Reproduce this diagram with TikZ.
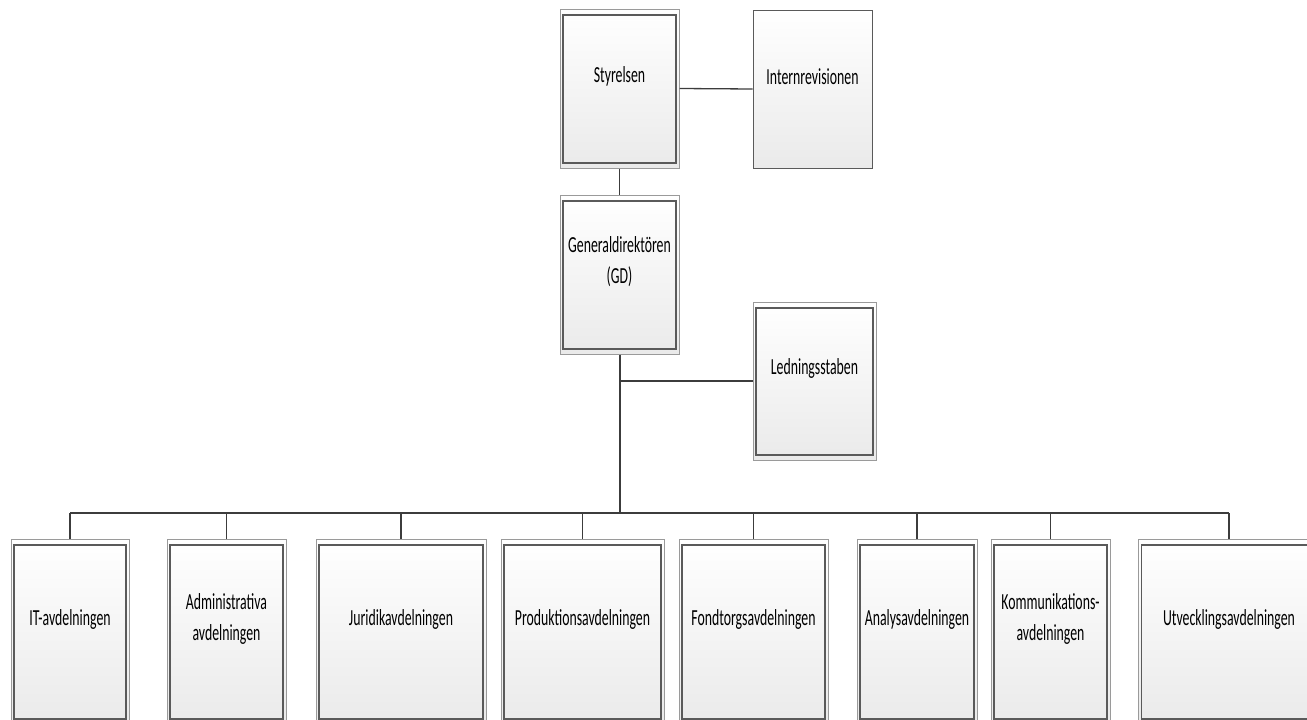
\documentclass[tikz,border=0pt]{standalone}
\usepackage{fontspec}
\setmainfont{Carlito}[FakeStretch=0.6]
\usetikzlibrary{positioning}

\definecolor{framegray}{HTML}{9A9A9A}
\definecolor{innergray}{HTML}{5A5A5A}
\definecolor{linegray}{HTML}{3C3C3C}
\definecolor{boxbottom}{HTML}{EAEAEA}

\begin{document}
\begin{tikzpicture}
		[x=1pt,y=-1pt,
		 box/.style={rectangle,draw=framegray,line width=1pt,top color=white,bottom color=boxbottom,inner sep=0pt},
		 dbox/.style={box,path picture={\draw[innergray,line width=1.1pt]
		   ([shift={(3pt,-6pt)}]path picture bounding box.north west) rectangle
		   ([shift={(-3pt,5pt)}]path picture bounding box.south east);}},
		 sbox/.style={box,draw=innergray},
		 boxtext/.style={align=center,inner sep=0pt,yshift=12.5pt,font=\fontsize{23}{31}\selectfont},
		 link/.style={draw=linegray,line width=1.3pt},
		 trunk/.style={draw=linegray,line width=2pt}]
		\useasboundingbox (0,0) rectangle (1307,720);

		% top of the chart
		\node[dbox,minimum width=119pt,minimum height=159pt] (styr) at (619.5,88.5) {};
		\node[boxtext] (styr-t) at (styr) {Styrelsen};
		\node[sbox,minimum width=119pt,minimum height=158pt] (intrev) at (812.5,89) {};
		\node[boxtext] (intrev-t) at (intrev) {Internrevisionen};
		\node[dbox,minimum width=119pt,minimum height=159pt] (gd) at (619.5,274.5) {};
		\node[boxtext] (gd-t) at (gd) {Generaldirektören\\(GD)};
		\node[dbox,minimum width=123pt,minimum height=158pt] (led) at (814.5,381) {};
		\node[boxtext] (led-t) at (led) {Ledningsstaben};

		% departments
		\foreach \name/\x/\w/\txt in
		{it/70/118/IT-avdelningen, adm/226.5/119/{Administrativa\\avdelningen},
		 jur/401/170/Juridikavdelningen, prod/582.5/163/Produktionsavdelningen,
		 fond/753.5/149/Fondtorgsavdelningen, anal/917/120/Analysavdelningen,
		 komm/1050.5/119/{Kommunikations-\\avdelningen}, utv/1229/181/Utvecklingsavdelningen}
		{
		\node[dbox,minimum width=\w pt,minimum height=185pt] (\name) at (\x,631.5) {};
		\node[boxtext] (\name-t) at (\name) {\txt};
		}

		\coordinate (busmid) at (619.5,513);
		\draw[link] (styr.east) -- (intrev.west);
		\draw[link] (styr.south) -- (gd.north);
		\draw[trunk] (gd.south) -- (busmid);
		\draw[link] (led.west) -- (led.west -| gd.south);
		\draw[trunk] (it.north |- busmid) -- (utv.north |- busmid);
		\foreach \to in {it,adm,jur,prod,fond,anal,komm,utv}
		\draw[link] (\to.north) -- (\to.north |- busmid);
		\end{tikzpicture}
\end{document}
